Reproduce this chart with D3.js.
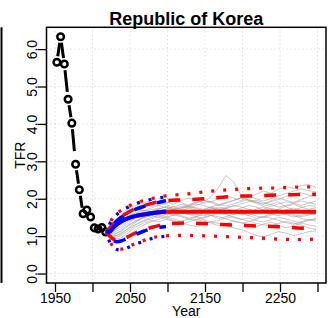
<!DOCTYPE html>
<html>
<head>
<meta charset="utf-8">
<script src="https://cdn.jsdelivr.net/npm/d3@7"></script>
<style>
  body { margin: 0; background: #fff; }
  svg { display: block; font-family: "Liberation Sans", Arial, sans-serif; }
</style>
</head>
<body>
<div id="chart-container"></div>
<script>
// observed TFR (5-year periods, mid points)
const obsYears = [1952.5, 1957.5, 1962.5, 1967.5, 1972.5, 1977.5, 1982.5, 1987.5, 1992.5, 1997.5, 2002.5, 2007.5, 2012.5, 2017.5];
const obsTFR = [5.65, 6.33, 5.60, 4.66, 4.02, 2.92, 2.24, 1.60, 1.70, 1.51, 1.22, 1.19, 1.23, 1.11];

// quantile years (blue ones stop at 2098)
const qYears = [2018, 2023, 2028, 2033, 2038, 2043, 2048, 2058, 2068, 2078, 2088, 2098, 2123, 2148, 2173, 2198, 2223, 2248, 2273, 2298];

const redMedian = [1.11, 1.13, 1.24, 1.33, 1.39, 1.44, 1.48, 1.54, 1.58, 1.61, 1.63, 1.65, 1.65, 1.65, 1.65, 1.65, 1.65, 1.65, 1.65, 1.65];
const red80hi = [1.11, 1.22, 1.33, 1.43, 1.51, 1.58, 1.64, 1.74, 1.81, 1.87, 1.92, 1.95, 1.97, 2.00, 2.04, 2.07, 2.08, 2.10, 2.11, 2.12];
const red80lo = [1.11, 1.00, 0.92, 0.89, 0.90, 0.94, 0.99, 1.09, 1.17, 1.23, 1.28, 1.32, 1.35, 1.34, 1.31, 1.29, 1.27, 1.25, 1.22, 1.20];
const red95hi = [1.11, 1.35, 1.50, 1.61, 1.69, 1.75, 1.80, 1.89, 1.95, 2.00, 2.04, 2.08, 2.12, 2.18, 2.23, 2.26, 2.28, 2.29, 2.31, 2.32];
const red95lo = [1.11, 0.86, 0.72, 0.66, 0.65, 0.68, 0.72, 0.81, 0.88, 0.95, 0.99, 1.01, 1.02, 1.01, 0.99, 0.97, 0.95, 0.92, 0.91, 0.92];

const blueMedian = [1.11, 1.12, 1.23, 1.32, 1.39, 1.44, 1.48, 1.54, 1.58, 1.61, 1.64, 1.66];
const blue80hi = [1.11, 1.22, 1.32, 1.42, 1.50, 1.56, 1.62, 1.72, 1.79, 1.85, 1.90, 1.95];
const blue80lo = [1.11, 0.98, 0.88, 0.85, 0.87, 0.91, 0.96, 1.05, 1.13, 1.19, 1.23, 1.26];
const blue95hi = [1.11, 1.33, 1.48, 1.59, 1.67, 1.73, 1.78, 1.87, 1.93, 1.98, 2.02, 2.05];
const blue95lo = [1.11, 0.84, 0.70, 0.64, 0.63, 0.66, 0.70, 0.79, 0.86, 0.93, 0.97, 1.00];

// a sample of trajectories, read every 10 years
const trajYears = [2018, 2028, 2038, 2048, 2058, 2068, 2078, 2088, 2098, 2108, 2118, 2128, 2138, 2148, 2158, 2168, 2178, 2188, 2198, 2208, 2218, 2228, 2238, 2248, 2258, 2268, 2278, 2288, 2298];
const traj1 = [1.11,1.25,1.42,1.55,1.62,1.70,1.66,1.72,1.80,1.74,1.68,1.75,1.82,1.90,2.05,2.30,2.62,2.45,2.10,1.95,1.88,1.80,1.85,1.92,1.78,1.70,1.76,1.82,1.80];
const traj2 = [1.11,1.05,1.12,1.28,1.40,1.48,1.55,1.50,1.58,1.62,1.55,1.48,1.52,1.60,1.55,1.47,1.52,1.58,1.65,1.60,1.54,1.50,1.56,1.62,1.58,1.51,1.55,1.60,1.57];
const traj3 = [1.11,1.32,1.55,1.70,1.78,1.85,1.80,1.88,1.92,1.85,1.95,2.02,1.96,1.88,1.92,2.00,2.08,2.02,1.95,2.05,2.12,2.20,2.15,2.25,2.32,2.28,2.35,2.38,2.30];
const traj4 = [1.11,0.92,0.95,1.10,1.25,1.35,1.42,1.38,1.45,1.40,1.32,1.38,1.45,1.40,1.35,1.28,1.33,1.40,1.36,1.30,1.25,1.32,1.38,1.30,1.22,1.28,1.35,1.30,1.26];
const traj5 = [1.11,1.18,1.36,1.50,1.58,1.62,1.70,1.75,1.68,1.72,1.80,1.76,1.70,1.65,1.72,1.78,1.74,1.68,1.75,1.82,1.78,1.70,1.66,1.72,1.80,1.85,1.78,1.72,1.76];
const traj6 = [1.11,1.00,1.05,1.22,1.38,1.52,1.60,1.66,1.62,1.55,1.60,1.68,1.62,1.70,1.78,1.72,1.65,1.58,1.62,1.55,1.48,1.52,1.60,1.66,1.60,1.55,1.48,1.42,1.45];
const traj7 = [1.11,1.28,1.48,1.62,1.72,1.68,1.75,1.82,1.88,1.95,1.90,1.82,1.88,1.96,1.92,1.85,1.80,1.86,1.92,1.98,1.92,1.86,1.95,2.02,1.96,1.90,1.98,2.05,2.10];
const traj8 = [1.11,0.95,1.02,1.15,1.30,1.42,1.50,1.56,1.52,1.46,1.40,1.45,1.50,1.44,1.38,1.42,1.48,1.52,1.45,1.40,1.35,1.30,1.28,1.34,1.40,1.35,1.30,1.22,1.18];
const traj9 = [1.11,1.22,1.40,1.52,1.60,1.66,1.62,1.58,1.65,1.70,1.64,1.58,1.62,1.68,1.74,1.66,1.60,1.65,1.70,1.66,1.72,1.78,1.72,1.66,1.70,1.75,1.68,1.63,1.66];
const traj10 = [1.11,1.12,1.30,1.45,1.55,1.60,1.58,1.65,1.72,1.78,1.85,1.80,1.74,1.68,1.62,1.70,1.76,1.82,1.78,1.72,1.66,1.72,1.80,1.86,1.92,1.88,1.82,1.88,1.94];
const traj11 = [1.11,0.88,0.90,1.02,1.18,1.30,1.38,1.45,1.50,1.56,1.62,1.58,1.52,1.48,1.55,1.62,1.58,1.50,1.45,1.48,1.42,1.38,1.44,1.50,1.46,1.40,1.36,1.42,1.48];
const traj12 = [1.11,1.35,1.58,1.75,1.82,1.88,1.95,1.90,1.84,1.78,1.72,1.80,1.86,1.82,1.76,1.70,1.74,1.80,1.86,1.92,1.96,1.90,1.84,1.78,1.82,1.88,1.94,1.90,1.85];
const traj13 = [1.11,1.15,1.25,1.40,1.48,1.55,1.62,1.68,1.62,1.58,1.52,1.46,1.42,1.50,1.56,1.52,1.46,1.40,1.35,1.38,1.45,1.52,1.48,1.42,1.36,1.32,1.38,1.45,1.40];
const traj14 = [1.11,1.08,1.20,1.35,1.50,1.58,1.66,1.72,1.78,1.72,1.76,1.84,1.90,1.96,1.90,1.82,1.88,1.95,2.02,2.08,2.00,1.94,2.00,2.08,2.14,2.20,2.26,2.22,2.18];
const traj15 = [1.11,1.20,1.38,1.48,1.55,1.50,1.56,1.62,1.58,1.64,1.70,1.64,1.58,1.54,1.60,1.66,1.70,1.64,1.58,1.62,1.68,1.64,1.58,1.55,1.60,1.66,1.62,1.58,1.62];
const traj16 = [1.11,0.98,1.08,1.20,1.32,1.40,1.46,1.52,1.48,1.42,1.36,1.30,1.26,1.32,1.38,1.34,1.28,1.22,1.18,1.10,1.02,0.98,1.05,1.12,1.08,1.02,1.06,1.12,1.14];
const traj17 = [1.11,1.30,1.50,1.66,1.75,1.80,1.86,1.82,1.76,1.70,1.75,1.80,1.76,1.72,1.78,1.84,1.90,1.96,2.02,1.96,1.90,1.85,1.92,1.98,2.06,2.12,2.16,2.10,2.05];
const traj18 = [1.11,1.02,1.15,1.30,1.42,1.50,1.55,1.60,1.66,1.70,1.65,1.60,1.56,1.62,1.68,1.74,1.70,1.64,1.60,1.56,1.62,1.68,1.74,1.70,1.64,1.58,1.52,1.56,1.60];
const trajectories = [traj1, traj2, traj3, traj4, traj5, traj6, traj7, traj8, traj9, traj10, traj11, traj12, traj13, traj14, traj15, traj16, traj17, traj18];

const xTicks = [1950, 2000, 2050, 2100, 2150, 2200, 2250, 2300];
const xLabels = [1950, 2050, 2150, 2250];
const yTicks = [0, 1, 2, 3, 4, 5, 6];

const width = 328;
const height = 318;
const plot = { left: 46.5, right: 326, top: 27.3, bottom: 283 };

const svg = d3.select('#chart-container')
              .append('svg')
              .attr('width', width)
              .attr('height', height);

// scales (R style 4% padding)
const x = d3.scaleLinear().domain([1938.7, 2311.3]).range([plot.left, plot.right]);
const y = d3.scaleLinear().domain([-0.253, 6.583]).range([plot.bottom, plot.top]);

// leftover edge of the neighbouring panel
svg.append('line')
   .attr('x1', 1.5).attr('x2', 1.5)
   .attr('y1', plot.top).attr('y2', plot.bottom)
   .attr('stroke', '#000').attr('stroke-width', 2);

// grid
const grid = svg.append('g')
                .attr('stroke', '#cfcfcf')
                .attr('stroke-width', 1)
                .attr('stroke-dasharray', '1,3');
grid.selectAll('.gx').data(xTicks).join('line')
    .attr('x1', d => x(d)).attr('x2', d => x(d))
    .attr('y1', plot.top).attr('y2', plot.bottom);
grid.selectAll('.gy').data(yTicks).join('line')
    .attr('y1', d => y(d)).attr('y2', d => y(d))
    .attr('x1', plot.left).attr('x2', plot.right);

const line = d3.line().x(d => x(d[0])).y(d => y(d[1]));
const zipped = (xs, ys) => ys.map((v, i) => [xs[i], v]);

// trajectories
svg.append('g')
   .attr('fill', 'none')
   .attr('stroke', '#9a9a9a')
   .attr('stroke-opacity', 0.55)
   .attr('stroke-width', 1)
   .selectAll('path')
   .data(trajectories)
   .join('path')
     .attr('d', t => line(zipped(trajYears, t)));

// observed: segments with gaps round the points (type = "b")
const obsPts = obsTFR.map((v, i) => [x(obsYears[i]), y(v)]);
const gap = 6;
const segs = [];
for (let i = 0; i < obsPts.length - 1; i++) {
  const [x0, y0] = obsPts[i], [x1, y1] = obsPts[i + 1];
  const len = Math.hypot(x1 - x0, y1 - y0);
  if (len <= 2 * gap) continue;
  const ux = (x1 - x0) / len, uy = (y1 - y0) / len;
  segs.push([[x0 + ux * gap, y0 + uy * gap], [x1 - ux * gap, y1 - uy * gap]]);
}
svg.append('g')
   .attr('stroke', '#000')
   .attr('stroke-width', 3)
   .attr('stroke-dasharray', '22,10')
   .selectAll('line')
   .data(segs)
   .join('line')
     .attr('x1', d => d[0][0]).attr('y1', d => d[0][1])
     .attr('x2', d => d[1][0]).attr('y2', d => d[1][1]);

svg.append('g')
   .attr('fill', 'none')
   .attr('stroke', '#000')
   .attr('stroke-width', 2.5)
   .selectAll('circle')
   .data(obsPts)
   .join('circle')
     .attr('cx', d => d[0]).attr('cy', d => d[1]).attr('r', 3.3);

// quantile lines
const qLine = d3.line().curve(d3.curveMonotoneX).x(d => x(d[0])).y(d => y(d[1]));
function drawQ(vals, color, width, dash, offset) {
  svg.append('path')
     .attr('d', qLine(zipped(qYears, vals)))
     .attr('fill', 'none')
     .attr('stroke', color)
     .attr('stroke-width', width)
     .attr('stroke-dasharray', dash)
     .attr('stroke-dashoffset', offset);
}
drawQ(redMedian, '#ff0000', 4, null, 0);
drawQ(red80hi, '#ff0000', 3.5, '12,12', 0);
drawQ(red80lo, '#ff0000', 3.5, '12,12', 0);
drawQ(red95hi, '#ff0000', 3.2, '3,9', 0);
drawQ(red95lo, '#ff0000', 3.2, '3,9', 0);

drawQ(blueMedian, '#0000ff', 4, null, 0);
drawQ(blue80hi, '#0000ff', 3.5, '12,12', 12);
drawQ(blue80lo, '#0000ff', 3.5, '12,12', 12);
drawQ(blue95hi, '#0000ff', 3.2, '3,9', 4);
drawQ(blue95lo, '#0000ff', 3.2, '3,9', 4);

// axes
const xAxis = svg.append('g')
                 .attr('transform', `translate(0,${plot.bottom})`)
                 .call(d3.axisBottom(x).tickValues(xTicks).tickSize(9).tickPadding(1)
                         .tickFormat(d => xLabels.includes(d) ? d : ''));
const yAxis = svg.append('g')
                 .attr('transform', `translate(${plot.left},0)`)
                 .call(d3.axisLeft(y).tickValues(yTicks).tickSize(9));
[xAxis, yAxis].forEach(a => {
  a.select('.domain').remove();
  a.selectAll('line').attr('stroke', '#000').attr('stroke-width', 1.3);
  a.selectAll('text').attr('fill', '#000').style('font-size', '14px')
   .style('font-family', '"Liberation Sans", Arial, sans-serif');
});
yAxis.selectAll('text')
     .attr('x', null).attr('dy', null)
     .attr('text-anchor', 'middle')
     .attr('transform', 'translate(-10,0) rotate(-90)');

// box
svg.append('rect')
   .attr('x', plot.left).attr('y', plot.top)
   .attr('width', plot.right - plot.left)
   .attr('height', plot.bottom - plot.top)
   .attr('fill', 'none')
   .attr('stroke', '#000')
   .attr('stroke-width', 1.5);

// labels
svg.append('text')
   .attr('x', (plot.left + plot.right) / 2).attr('y', 24.5)
   .attr('text-anchor', 'middle')
   .style('font-size', '18px').style('font-weight', 'bold')
   .text('Republic of Korea');

svg.append('text')
   .attr('x', (plot.left + plot.right) / 2).attr('y', 316)
   .attr('text-anchor', 'middle')
   .style('font-size', '14px')
   .text('Year');

svg.append('text')
   .attr('transform', `translate(25,${(plot.top + plot.bottom) / 2}) rotate(-90)`)
   .attr('text-anchor', 'middle')
   .style('font-size', '14px')
   .text('TFR');
</script>
</body>
</html>
